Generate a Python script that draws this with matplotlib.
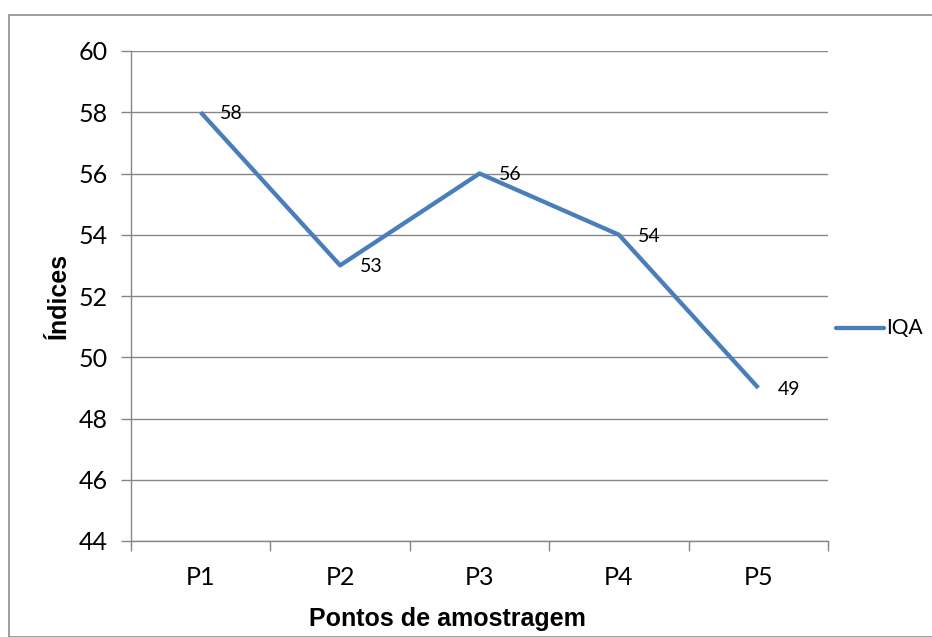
import matplotlib.pyplot as plt
from matplotlib.patches import Rectangle
from matplotlib.lines import Line2D

# Water quality index per sampling point
pontos = ['P1', 'P2', 'P3', 'P4', 'P5']
iqa = [58, 53, 56, 54, 49]
y_ticks = [44, 46, 48, 50, 52, 54, 56, 58, 60]
serie = 'IQA'

line_color = '#4A7EBB'
grid_color = '#868686'
tick_font = 'Lato'

fig = plt.figure(figsize=(9.32, 6.37), dpi=100)

# outer chart frame
fig.patches.append(Rectangle((9 / 932, 0), 1, 1 - 15 / 637, transform=fig.transFigure,
                             fill=False, edgecolor='#8c8c8c', linewidth=1.2, zorder=0))

ax = fig.add_axes([131 / 932, 1 - 541 / 637, 697 / 932, 490 / 637])

x = list(range(len(pontos)))
ax.plot(x, iqa, color=line_color, linewidth=3.1, solid_capstyle='butt', zorder=3)

for xi, v in zip(x, iqa):
    ax.annotate(str(v), (xi, v), xytext=(14, -1), textcoords='offset points',
                ha='left', va='center', fontsize=14, family=tick_font, color='black')

ax.set_xlim(-0.5, len(pontos) - 0.5)
ax.set_ylim(44, 60)
ax.set_yticks(y_ticks)
ax.set_yticklabels([str(t) for t in y_ticks], fontsize=18, family=tick_font)
ax.set_xticks(x)
ax.set_xticklabels(pontos, fontsize=18, family=tick_font)
ax.set_xticks([i - 0.5 for i in range(len(pontos) + 1)], minor=True)

ax.yaxis.grid(True, color=grid_color, linewidth=1.0)
ax.set_axisbelow(True)
for side in ['top', 'right']:
    ax.spines[side].set_visible(False)
for side in ['left', 'bottom']:
    ax.spines[side].set_color(grid_color)
    ax.spines[side].set_linewidth(1.0)

ax.tick_params(axis='y', length=7, width=1.0, color=grid_color, pad=10)
ax.tick_params(axis='x', which='major', length=0, pad=18)
ax.tick_params(axis='x', which='minor', length=7, width=1.0, color=grid_color)

ax.set_ylabel('Índices', fontsize=18, fontweight='bold', family='Liberation Sans', labelpad=5)
# x title sits centred under the chart area rather than the plot area
ax.set_xlabel('Pontos de amostragem', fontsize=18, fontweight='bold', family='Liberation Sans',
              labelpad=13, x=(447 - 131) / 697)

# single-entry legend at the right of the plot area
ly = 1 - 328 / 637
fig.add_artist(Line2D([836 / 932, 884 / 932], [ly, ly], transform=fig.transFigure,
                      color=line_color, linewidth=3.1, solid_capstyle='round'))
fig.text(886 / 932, ly, serie, ha='left', va='center', fontsize=15, family=tick_font)

fig.savefig('out.png', dpi=100)
